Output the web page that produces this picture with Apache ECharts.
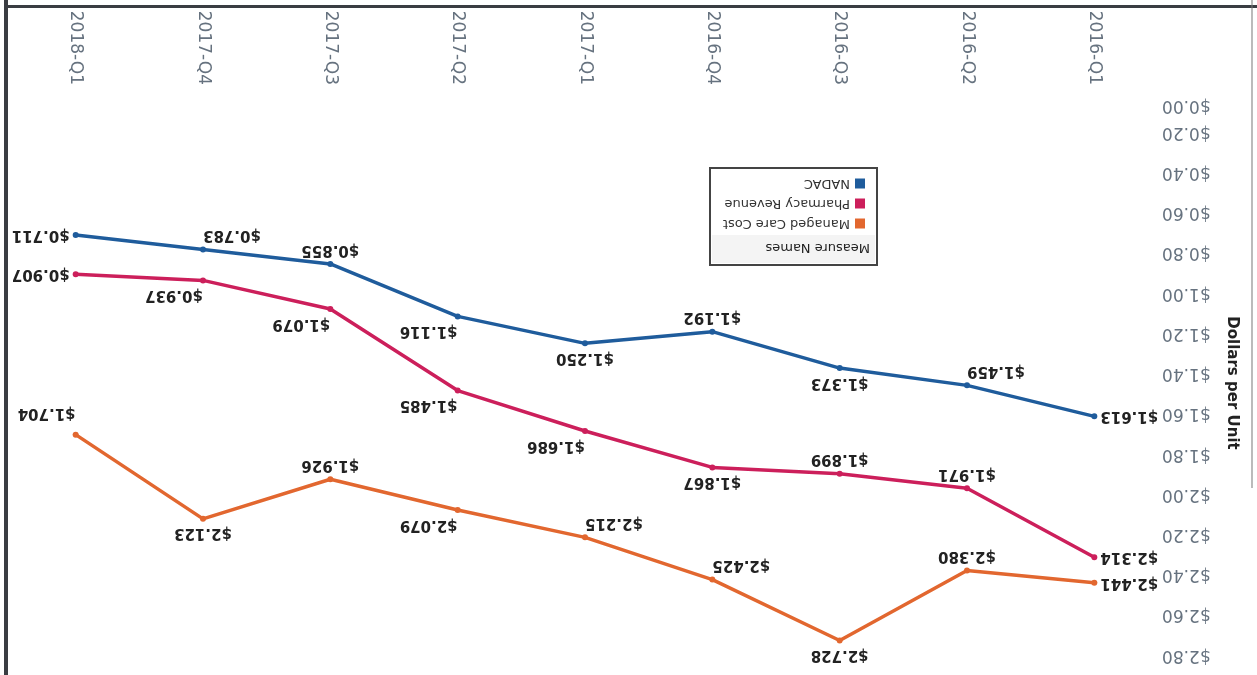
<!DOCTYPE html>
<html>
<head>
<meta charset="utf-8">
<title>Dollars per Unit</title>
<script src="https://cdn.jsdelivr.net/npm/echarts@6/dist/echarts.min.js"></script>
<style>
html, body { margin: 0; padding: 0; background: #fff; }
/* the scanned page is upside down, so the whole chart is turned round */
#chart { width: 1257px; height: 675px; transform: rotate(180deg); }
</style>
</head>
<body>
<div id="chart"></div>
<script>
var quarters = ['2016-Q1', '2016-Q2', '2016-Q3', '2016-Q4', '2017-Q1', '2017-Q2', '2017-Q3', '2017-Q4', '2018-Q1'];

var nadac      = [1.613, 1.459, 1.373, 1.192, 1.250, 1.116, 0.855, 0.783, 0.711];
var pharmacy   = [2.314, 1.971, 1.899, 1.867, 1.686, 1.485, 1.079, 0.937, 0.907];
var managed    = [2.441, 2.380, 2.728, 2.425, 2.215, 2.079, 1.926, 2.123, 1.704];

var yTicks = [0, 0.2, 0.4, 0.6, 0.8, 1.0, 1.2, 1.4, 1.6, 1.8, 2.0, 2.2, 2.4, 2.6, 2.8];

// where each value label sits (side of the point, sideways nudge, downward nudge)
var nadacPos     = ['left', 'bottom', 'top', 'bottom', 'top', 'top', 'bottom', 'bottom', 'right'];
var nadacShift   = [0, -1, 0, 0, 0, 1, 0, -1, 0];
var nadacDrop    = [0, 0, 0, 0, 0, 0, 0, 0, 0];
var pharmPos     = ['left', 'bottom', 'bottom', 'top', 'top', 'top', 'top', 'top', 'right'];
var pharmShift   = [0, 0, 0, 0, 1, 1, 1, 1, 0];
var pharmDrop    = [0, 0, 0, 0, 0, 0, 0, 0, 0];
var managedPos   = ['left', 'bottom', 'top', 'bottom', 'bottom', 'top', 'bottom', 'top', 'bottom'];
var managedShift = [0, 0, 0, -1, -1, 1, 0, 0, 1];
var managedDrop  = [0, 0, 0, 0, 0, 0, 0, 0, 7];

var FONT = 'DejaVu Sans';
var AXIS_GREY = '#66727f';

function money(v, d) {
    return '$' + v.toFixed(d);
}

function points(vals, pos, shift, drop) {
    var out = [];
    for (var i = 0; i < vals.length; i++) {
        out.push({
            value: vals[i],
            label: {
                position: pos[i],
                distance: (pos[i] == 'left' || pos[i] == 'right') ? 3 : 4,
                offset: [shift[i] * 29, drop[i]]
            }
        });
    }
    return out;
}

function lineSeries(name, color, vals, pos, shift, drop) {
    return {
        name: name,
        type: 'line',
        data: points(vals, pos, shift, drop),
        symbol: 'circle',
        symbolSize: 6,
        lineStyle: { width: 3.5, color: color },
        itemStyle: { color: color },
        label: {
            show: true,
            fontFamily: FONT,
            fontSize: 15,
            fontWeight: 'bold',
            color: '#222',
            formatter: function (p) { return money(p.value, 3); }
        },
        emphasis: { disabled: true }
    };
}

var chart = echarts.init(document.getElementById('chart'));

var option = {
    backgroundColor: '#fff',
    animation: false,
    textStyle: { fontFamily: FONT },
    grid: { left: 99, right: 12, top: 20, bottom: 92 },
    legend: {
        data: ['Managed Care Cost', 'Pharmacy Revenue', 'NADAC'],
        orient: 'vertical',
        left: 387,
        top: 440,
        icon: 'rect',
        itemWidth: 10,
        itemHeight: 10,
        itemGap: 7,
        textStyle: { fontFamily: FONT, fontSize: 13, color: '#333' }
    },
    xAxis: {
        type: 'category',
        data: quarters,
        boundaryGap: true,
        axisLine: { show: false },
        axisTick: { show: false },
        axisLabel: {
            rotate: 90,
            margin: 7,
            fontFamily: FONT,
            fontSize: 17,
            color: AXIS_GREY
        }
    },
    yAxis: {
        type: 'value',
        min: yTicks[0],
        max: yTicks[yTicks.length - 1],
        interval: 0.2,
        axisLine: { show: false },
        axisTick: { show: false },
        splitLine: { show: false },
        axisLabel: {
            margin: 4,
            fontFamily: FONT,
            fontSize: 17,
            color: AXIS_GREY,
            formatter: function (v) {
                var s = money(v, 2);
                return v === 0 ? '{z|' + s + '}' : s;
            },
            rich: {
                z: { fontFamily: FONT, fontSize: 17, color: AXIS_GREY, padding: [0, 0, 26, 0] }
            }
        }
    },
    graphic: [
        // axis title
        {
            type: 'text', z: 3,
            x: 25, y: 292,
            rotation: Math.PI / 2,
            style: {
                text: 'Dollars per Unit', fontFamily: FONT, fontSize: 15, fontWeight: 'bold',
                fill: '#222', align: 'center', verticalAlign: 'middle'
            }
        },
        // legend frame and its title
        {
            type: 'rect', z: 1,
            shape: { x: 380, y: 410, width: 167, height: 97 },
            style: { fill: '#fff', stroke: '#444', lineWidth: 2 }
        },
        {
            type: 'rect', z: 2,
            shape: { x: 382, y: 412, width: 163, height: 28 },
            style: { fill: '#f4f4f4' }
        },
        {
            type: 'text', z: 3,
            x: 387, y: 428,
            style: { text: 'Measure Names', fontFamily: FONT, fontSize: 13, fill: '#222', verticalAlign: 'middle' }
        },
        // edges of the scanned sheet
        {
            type: 'rect', z: 5,
            shape: { x: 1249, y: 0, width: 4, height: 675 },
            style: { fill: '#3a3d42' }
        },
        {
            type: 'rect', z: 5,
            shape: { x: 0, y: 667, width: 1252, height: 3 },
            style: { fill: '#3a3d42' }
        },
        {
            type: 'line', z: 5,
            shape: { x1: 5, y1: 187, x2: 5, y2: 675 },
            style: { stroke: '#777', lineWidth: 1 }
        }
    ],
    series: [
        lineSeries('NADAC', '#1f5c9c', nadac, nadacPos, nadacShift, nadacDrop),
        lineSeries('Pharmacy Revenue', '#cc1f5b', pharmacy, pharmPos, pharmShift, pharmDrop),
        lineSeries('Managed Care Cost', '#e2672f', managed, managedPos, managedShift, managedDrop)
    ]
};

chart.setOption(option);
</script>
</body>
</html>
